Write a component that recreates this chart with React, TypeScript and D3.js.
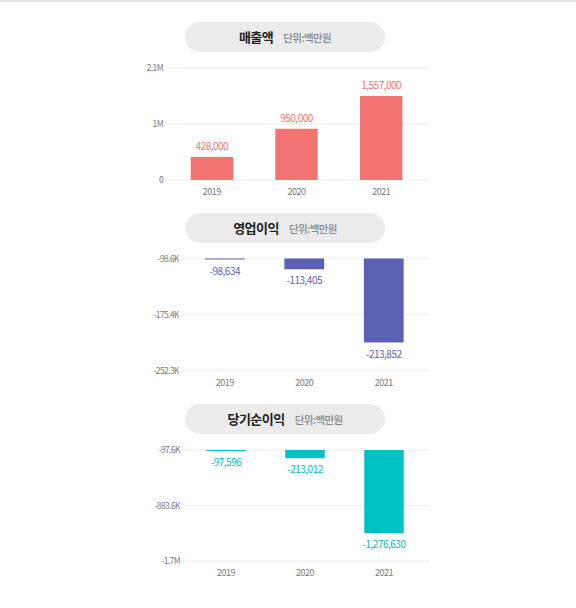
import React from 'react';
import * as d3 from 'd3';

const years = ['2019', '2020', '2021'];

const salesValues = [428000, 950000, 1557000];
const opProfitValues = [-98634, -113405, -213852];
const netProfitValues = [-97596, -213012, -1276630];

const salesTicks = ['0', '1M', '2.1M'];
const opProfitTicks = ['-98.6K', '-175.4K', '-252.3K'];
const netProfitTicks = ['-97.6K', '-883.6K', '-1.7M'];

const unitLabel = '단위:백만원';
const FONT = '"Noto Sans CJK KR", "Noto Sans", sans-serif';

interface PanelProps {
  title: string;
  values: number[];
  ticks: string[];
  color: string;
  labelColor: string;
  top: number;
  plotTop: number;
  plotBottom: number;
  xStart: number;
  gridStart: number;
}

// plain hyphen instead of d3's unicode minus
const fmt = (v: number) => d3.format(',')(v).replace('\u2212', '-');

const BarPanel: React.FC<PanelProps> = ({
  title, values, ticks, color, labelColor, top, plotTop, plotBottom, xStart, gridStart,
}) => {
  const positive = d3.min(values)! >= 0;
  // baseline is the axis end nearest to zero; far end stretches the data range by 4/3
  const lo = positive ? 0 : d3.max(values)!;
  const hi = positive ? d3.max(values)! : d3.min(values)!;
  const far = lo + (hi - lo) * 4 / 3;

  const y = d3.scaleLinear().domain([lo, far]).range(positive ? [plotBottom, plotTop] : [plotTop, plotBottom]);
  const x = d3.scaleBand().domain(years).range([xStart, 423.5]).paddingInner(0.5).paddingOuter(0.25);
  const tickVals = [lo, (lo + far) / 2, far];
  const gridEnd = 430;

  return (
    <g>
      <rect x={185} y={top} width={200} height={30} rx={15} fill="#ebebeb" />
      <text x={285} y={top + 20} textAnchor="middle" fontFamily={FONT}>
        <tspan fontSize={13} fontWeight={700} fill="#222" letterSpacing={-0.5}>{title}</tspan>
        <tspan dx={10} fontSize={10.5} fontWeight={500} fill="#888" letterSpacing={-0.6}>{unitLabel}</tspan>
      </text>
      {tickVals.map((t, i) => (
        <g key={i}>
          <line x1={gridStart} x2={gridEnd} y1={y(t)} y2={y(t)} stroke="#f0f0f0" strokeWidth={1.5} />
          <text x={gridStart - 2} y={y(t) + 3} textAnchor="end" fontSize={8.5} fill="#777"
            fontFamily={FONT} letterSpacing={-0.6}>{ticks[i]}</text>
        </g>
      ))}
      {values.map((v, i) => {
        const y0 = y(lo);
        const y1 = y(v);
        const h = Math.max(1, Math.abs(y1 - y0));
        const by = positive ? y0 - h : y0;
        const cx = x(years[i])! + x.bandwidth() / 2;
        const ly = positive ? by - 7 : by + h + 15;
        return (
          <g key={years[i]}>
            <rect x={x(years[i])} y={by} width={x.bandwidth()} height={h} fill={color} />
            <text x={cx} y={ly} textAnchor="middle" fontSize={10} fill={labelColor}
              fontFamily={FONT} letterSpacing={-0.5}>{fmt(v)}</text>
            <text x={cx} y={plotBottom + 15} textAnchor="middle" fontSize={9} fill="#777"
              fontFamily={FONT} letterSpacing={-0.5}>{years[i]}</text>
          </g>
        );
      })}
    </g>
  );
};

export default function App() {
  return (
    <svg width={576} height={608} style={{ position: 'absolute', left: 0, top: 0, background: '#fff' }}>
      <line x1={0} x2={576} y1={1} y2={1} stroke="#dedede" strokeWidth={1.5} />
      <BarPanel title="매출액" values={salesValues} ticks={salesTicks} color="#f37370" labelColor="#f27572"
        top={22} plotTop={68} plotBottom={180} xStart={169.5} gridStart={165} />
      <BarPanel title="영업이익" values={opProfitValues} ticks={opProfitTicks} color="#5c60b4" labelColor="#5b5fb9"
        top={213} plotTop={258.5} plotBottom={370.5} xStart={185} gridStart={181} />
      <BarPanel title="당기순이익" values={netProfitValues} ticks={netProfitTicks} color="#00c1c4" labelColor="#00bcc0"
        top={404} plotTop={450} plotBottom={561} xStart={186.5} gridStart={182} />
    </svg>
  );
}
